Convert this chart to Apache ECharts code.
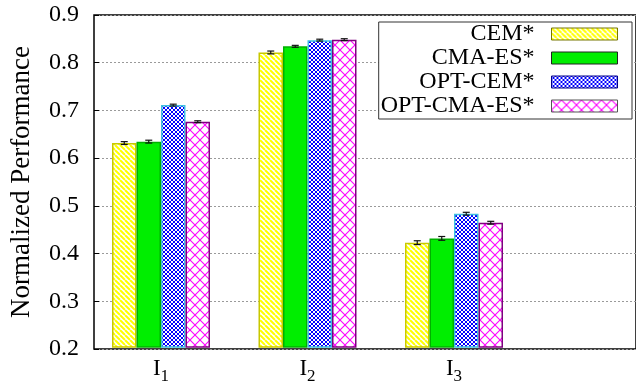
<!DOCTYPE html>
<html>
<head>
<meta charset="utf-8">
<script src="https://cdn.jsdelivr.net/npm/echarts@6/dist/echarts.min.js"></script>
<style>
  html, body { margin: 0; padding: 0; background: #fff; }
  #chart { width: 636px; height: 385px; }
</style>
</head>
<body>
<div id="chart"></div>
<script>
// Benchmark instances and method scores (mean normalized performance, with error half-widths)
const categories = ['I1', 'I2', 'I3'];
const methodNames = ['CEM*', 'CMA-ES*', 'OPT-CEM*', 'OPT-CMA-ES*'];

const cem       = [0.630, 0.821, 0.420];
const cmaes     = [0.633, 0.834, 0.429];
const optCem    = [0.710, 0.847, 0.481];
const optCmaes  = [0.675, 0.848, 0.462];

const cemErr      = [0.003, 0.003, 0.004];
const cmaesErr    = [0.003, 0.002, 0.004];
const optCemErr   = [0.002, 0.002, 0.003];
const optCmaesErr = [0.002, 0.002, 0.003];

const yMin = 0.2, yMax = 0.9, yStep = 0.1;

const FONT = '"Liberation Serif", "DejaVu Serif", serif';
const BAR_W = 24.5;

// ---- fill patterns ----
function tile(size, draw) {
  const c = document.createElement('canvas');
  c.width = size; c.height = size;
  const g = c.getContext('2d');
  g.fillStyle = '#fff';
  g.fillRect(0, 0, size, size);
  draw(g, size);
  return { image: c, repeat: 'repeat' };
}
function diag(g, s, dir, color, w) {
  g.strokeStyle = color; g.lineWidth = w;
  for (let k = -s; k <= s; k += s) {
    g.beginPath();
    if (dir > 0) { g.moveTo(k, 0); g.lineTo(k + s, s); }
    else { g.moveTo(k + s, 0); g.lineTo(k, s); }
    g.stroke();
  }
}
const stripeYellow = tile(5, (g, s) => diag(g, s, 1, '#ffff00', 2.0));
const hatchBlue = tile(4, (g, s) => { diag(g, s, 1, '#0000ff', 1.0); diag(g, s, -1, '#0000ff', 1.0); });
const hatchMagenta = tile(10, (g, s) => { diag(g, s, 1, '#ff00ff', 1.1); diag(g, s, -1, '#ff00ff', 1.1); });

const styles = [
  { color: stripeYellow, borderColor: '#c8c800', legendBorder: '#777700' },
  { color: '#00ee00',    borderColor: '#00b000', legendBorder: '#222' },
  { color: hatchBlue,    borderColor: '#40c0e0', legendBorder: '#000088' },
  { color: hatchMagenta, borderColor: '#800080', legendBorder: '#555' }
];
const values = [cem, cmaes, optCem, optCmaes];
const errors = [cemErr, cmaesErr, optCemErr, optCmaesErr];

const barSeries = methodNames.map((name, k) => ({
  name: name,
  type: 'bar',
  xAxisIndex: 1,
  yAxisIndex: 1,
  barWidth: BAR_W,
  barGap: '0%',
  data: values[k],
  itemStyle: { color: styles[k].color, borderColor: styles[k].borderColor, borderWidth: 1.5 },
  emphasis: { disabled: true },
  z: 2
}));

// error bars drawn next to their bar, offset inside each category group
const errSeries = methodNames.map((name, k) => ({
  name: name + ' err',
  type: 'custom',
  xAxisIndex: 1,
  yAxisIndex: 1,
  z: 5,
  silent: true,
  data: values[k].map((v, i) => [i, v, errors[k][i]]),
  renderItem: function (params, api) {
    const i = api.value(0), v = api.value(1), e = api.value(2);
    const off = (k - (methodNames.length - 1) / 2) * BAR_W;
    const hi = api.coord([i, v + e]);
    const lo = api.coord([i, v - e]);
    const x = hi[0] + off;
    const cap = 3.5;
    const st = { stroke: '#111', lineWidth: 1.2 };
    return {
      type: 'group',
      children: [
        { type: 'line', shape: { x1: x, y1: hi[1], x2: x, y2: lo[1] }, style: st },
        { type: 'line', shape: { x1: x - cap, y1: hi[1], x2: x + cap, y2: hi[1] }, style: st },
        { type: 'line', shape: { x1: x - cap, y1: lo[1], x2: x + cap, y2: lo[1] }, style: st }
      ]
    };
  }
}));

const chart = echarts.init(document.getElementById('chart'), null, { renderer: 'canvas' });
chart.setOption({
  animation: false,
  backgroundColor: '#fff',
  grid: [
    { left: 91, top: 15, right: -20, bottom: 36, show: true, borderColor: '#000', borderWidth: 1.5, backgroundColor: 'transparent' },
    { left: 87.75, width: 439.5, top: 15, bottom: 36 }
  ],
  xAxis: [
    { gridIndex: 0, type: 'value', min: 0, max: 1, show: false },
    {
      gridIndex: 1, type: 'category', data: categories,
      axisLine: { show: false }, axisTick: { show: false },
      axisLabel: {
        margin: 10,
        color: '#000',
        formatter: v => '{i|' + v.charAt(0) + '}{s|' + v.slice(1) + '}',
        rich: {
          i: { fontFamily: FONT, fontSize: 23, color: '#000', verticalAlign: 'bottom', padding: [0, 0, 5, 0] },
          s: { fontFamily: FONT, fontSize: 17, color: '#000', verticalAlign: 'bottom' }
        }
      }
    }
  ],
  yAxis: [
    {
      gridIndex: 0, type: 'value', min: yMin, max: yMax, interval: yStep,
      name: 'Normalized Performance', nameLocation: 'middle', nameRotate: 90, nameGap: 59,
      nameTextStyle: { fontFamily: FONT, fontSize: 27, color: '#000' },
      axisLine: { show: false },
      axisTick: { show: true, inside: true, length: 5, lineStyle: { color: '#000', width: 1 } },
      axisLabel: { fontFamily: FONT, fontSize: 24, color: '#000', margin: 15, formatter: v => v.toFixed(1) },
      splitLine: { show: true, lineStyle: { color: '#9a9a9a', type: [2, 2], width: 1 } }
    },
    { gridIndex: 1, type: 'value', min: yMin, max: yMax, interval: yStep, show: false, splitLine: { show: false } }
  ],
  legend: {
    orient: 'vertical',
    align: 'right',
    right: 4,
    top: 22,
    padding: [0, 14, 1, 2],
    itemWidth: 66,
    itemHeight: 12,
    itemGap: 0,
    backgroundColor: '#fff',
    borderColor: '#333',
    borderWidth: 1,
    selectedMode: false,
    textStyle: { fontFamily: FONT, fontSize: 24, color: '#000' },
    formatter: n => n + '  ',
    data: methodNames.map((n, k) => ({
      name: n,
      icon: 'rect',
      itemStyle: { borderColor: styles[k].legendBorder, borderWidth: 1 }
    }))
  },
  series: barSeries.concat(errSeries)
});
</script>
</body>
</html>
